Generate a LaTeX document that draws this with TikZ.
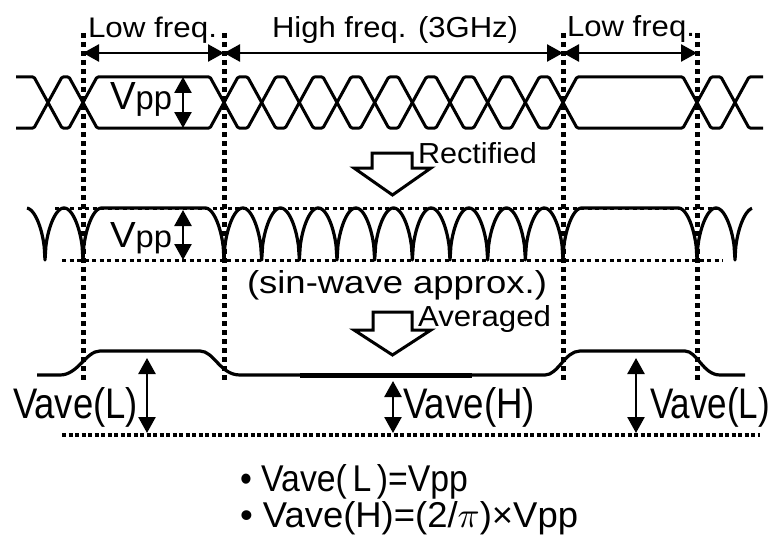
\documentclass[tikz,border=0pt]{standalone}
\usepackage{fontspec}
\setmainfont{Liberation Sans}
\usepackage{graphicx}
\usetikzlibrary{arrows.meta}
\newcommand\fitt[3]{\resizebox{#1pt}{#2pt}{#3}}
\newcommand\rw[2]{260-52*sqrt(abs(sin(180*(\x-(#1))/(#2))))}
\newcommand\eyetrace[2]{(16,#1) -- (34,#1) -- (62,#2) -- (69,#2) -- (97,#1) -- (210,#1) -- (238,#2) -- (247.67,#2) -- (275.67,#1) -- (285.33,#1) -- (313.33,#2) -- (323,#2) -- (351,#1) -- (360.67,#1) -- (388.67,#2) -- (398.33,#2) -- (426.33,#1) -- (436,#1) -- (464,#2) -- (473.67,#2) -- (501.67,#1) -- (511.33,#1) -- (539.33,#2) -- (549,#2) -- (577,#1) -- (683,#1) -- (711,#2) -- (721,#2) -- (749,#1) -- (763,#1)}
\begin{document}
\begin{tikzpicture}[x=1pt,y=-1pt,
  wave/.style={line width=3pt,line join=round,rounded corners=1.2pt},
  rwave/.style={line width=3.2pt,line join=round},
  vdot/.style={line width=5pt,dash pattern=on 5pt off 4pt},
  hdot/.style={line width=3pt,dash pattern=on 4pt off 3.5pt},
  bdot/.style={line width=3.5pt,dash pattern=on 4pt off 2.5pt},
  dim/.style={line width=2.5pt,{Triangle[length=16pt,width=17pt]}-{Triangle[length=16pt,width=17pt]}},
  blockarrow/.style={line width=3pt,line join=miter,fill=white},
  lbl/.style={anchor=base west,inner sep=0pt,outer sep=0pt}]
\useasboundingbox[fill=white] (0,0) rectangle (774,543);

% ---------- row 1: eye diagram ----------
\draw[wave] \eyetrace{77}{128};
\draw[wave] \eyetrace{128}{77};

% ---------- row 2: rectified ----------
\draw[rwave]
  plot[domain=27:45,samples=24] (\x,{\rw{7}{38}})
  -- plot[domain=45:83,samples=40] (\x,{\rw{45}{38}})
  -- plot[domain=83:101.83,samples=24] (\x,{\rw{83}{37.67}})
  -- (205.17,208)
  -- plot[domain=205.17:224,samples=24] (\x,{\rw{186.33}{37.67}})
  \foreach \a/\b in {224/261.67,261.67/299.33,299.33/337,337/374.67,374.67/412.33,412.33/450,450/487.67,487.67/525.33,525.33/563}{
    -- plot[domain=\a:\b,samples=40] (\x,{\rw{\a}{37.67}})}
  -- plot[domain=563:581.83,samples=24] (\x,{\rw{563}{37.67}})
  -- (678.17,208)
  -- plot[domain=678.17:697,samples=24] (\x,{\rw{659.33}{37.67}})
  -- plot[domain=697:735,samples=40] (\x,{\rw{697}{38}})
  -- plot[domain=735:752,samples=24] (\x,{\rw{735}{38}});

\coordinate (rtl) at (55,208);  \coordinate (rtr) at (720,208);
\coordinate (rbl) at (62,260);  \coordinate (rbr) at (723,260);
\draw[hdot] (rtl) -- (rtr);
\draw[hdot] (rbl) -- (rbr);

% ---------- row 3: averaged ----------
\draw[rwave] (37,375) -- (60,375) .. controls (78,375) and (86,351) .. (100,351)
  -- (200,351) .. controls (214,351) and (220,375) .. (240,375)
  -- (545,375) .. controls (558,375) and (565,351) .. (580,351)
  -- (685,351) .. controls (697,351) and (703,375) .. (720,375) -- (745,375);
\coordinate (thA) at (300,375); \coordinate (thB) at (472,375);
\draw[line width=5pt] (thA) -- (thB);
\coordinate (bl) at (62,435); \coordinate (br) at (760,435);
\draw[bdot] (bl) -- (br);

% ---------- vertical dotted lines ----------
\foreach \n/\xx in {v1/83,v2/224,v3/563,v4/697}{
  \coordinate (\n t) at (\xx,33);
  \coordinate (\n b) at (\xx,383);
  \draw[vdot] (\n t) -- (\n b);
}

% ---------- frequency arrows ----------
\coordinate (f1) at (83,53);  \coordinate (f2) at (224,53);
\coordinate (f3) at (563,53); \coordinate (f4) at (697,53);
\draw[dim] (f1) -- (f2);
\draw[dim] (f2) -- (f3);
\draw[dim] (f3) -- (f4);

% ---------- Vpp arrows ----------
\coordinate (p1t) at (183,77);  \coordinate (p1b) at (183,128);
\coordinate (p2t) at (183,210); \coordinate (p2b) at (183,260);
\draw[dim] (p1t) -- (p1b);
\draw[dim] (p2t) -- (p2b);

% ---------- Vave arrows ----------
\coordinate (a1t) at (147,358); \coordinate (a1b) at (147,433);
\coordinate (a2t) at (393,381); \coordinate (a2b) at (393,433);
\coordinate (a3t) at (636,358); \coordinate (a3b) at (636,433);
\draw[dim] (a1t) -- (a1b);
\draw[dim] (a2t) -- (a2b);
\draw[dim] (a3t) -- (a3b);

% ---------- block arrows ----------
\draw[blockarrow] (372,153) -- (412,153) -- (412,168) -- (431,168) -- (392.5,195) -- (354,168) -- (372,168) -- cycle;
\draw[blockarrow] (373,312) -- (412,312) -- (412,330) -- (431,330) -- (392.5,355) -- (354,330) -- (373,330) -- cycle;

% ---------- labels ----------
\node[lbl] (lowL) at (88,38)  {\fitt{129}{20.5}{Low freq.}};
\node[lbl] (high) at (272,38) {\fitt{246}{21}{High freq. (3GHz)}};
\node[lbl] (lowR) at (567,37) {\fitt{128}{21}{Low freq.}};
\node[lbl] (vpp1) at (110,110) {\fitt{62}{27}{V\scalebox{0.85}{pp}}};
\node[lbl] (vpp2) at (110,247) {\fitt{62}{25}{V\scalebox{0.85}{pp}}};
\node[lbl] (rect) at (418,163) {\fitt{119}{21}{Rectified}};
\node[lbl] (sinw) at (247,293) {\fitt{300}{23}{(sin-wave approx.)}};
\node[lbl] (avg)  at (418,326) {\fitt{133}{21}{Averaged}};
\node[lbl] (vl1)  at (13,418)  {\fitt{125}{31}{Vave(L)}};
\node[lbl] (vh)   at (403,418) {\fitt{132}{31}{Vave(H)}};
\node[lbl] (vl2)  at (650,418) {\fitt{120}{31}{Vave(L)}};
\node[lbl] (eq1)  at (240,491) {\fitt{228}{27}{• Vave(\,L\,)=Vpp}};
\node[lbl] (eq2)  at (240,527) {\fitt{338}{26}{• Vave(H)=(2/$\pi$)×Vpp}};
\end{tikzpicture}
\end{document}
